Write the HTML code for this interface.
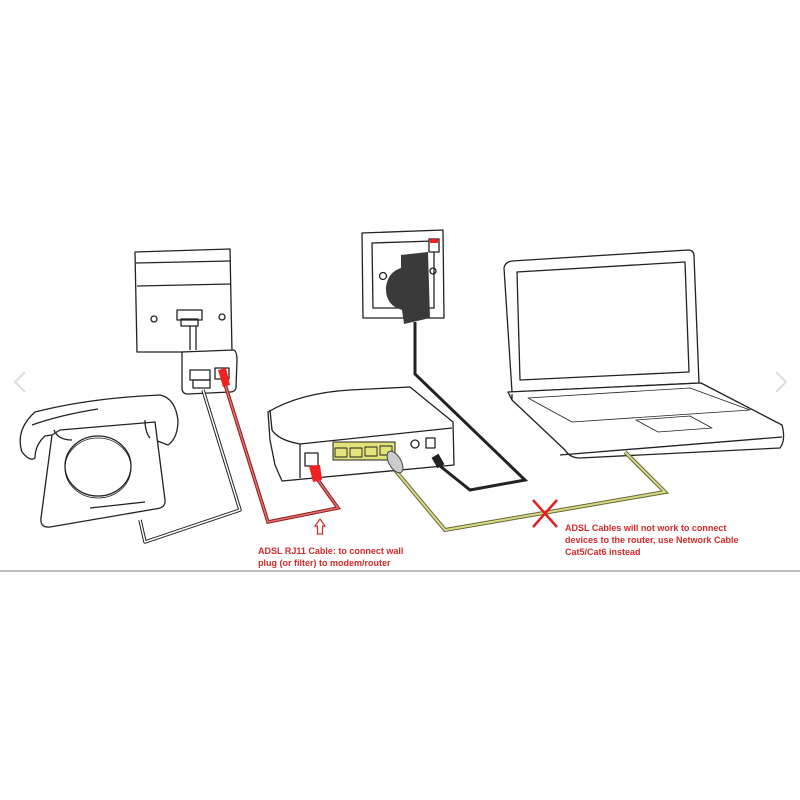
<!DOCTYPE html>
<html><head><style>
html,body{margin:0;padding:0;background:#fff;}
svg{display:block}
text{font-family:"Liberation Sans",sans-serif;font-weight:bold;fill:#d42a2a;font-size:9px}
</style></head><body>
<svg width="800" height="800" viewBox="0 0 800 800">
<g fill="none" stroke="#222" stroke-width="1.3" stroke-linejoin="round">
<path d="M25 372 L15 382 L25 392" stroke="#ddd" stroke-width="2"/>
<path d="M776 372 L786 382 L776 392" stroke="#ddd" stroke-width="2"/>
<path d="M135 252 L230 249 L232 352 L137 352 Z" fill="#fff"/>
<path d="M136 263 L230 261"/>
<path d="M137 286 L231 284"/>
<circle cx="154" cy="319" r="3"/><circle cx="222" cy="317" r="3"/>
<rect x="177" y="310" width="25" height="10"/>
<rect x="181" y="319" width="17" height="7"/>
<path d="M190 326 L190 350 M196 326 L196 350"/>
<path d="M182 352 L234 350 Q237 352 237 360 L236 388 Q235 392 230 392 L188 394 Q182 394 182 388 Z" fill="#fff"/>
<rect x="190" y="370" width="20" height="10"/>
<rect x="193" y="380" width="17" height="8"/>
<rect x="215" y="368" width="14" height="11"/>
<path d="M203 390 L240 510 L145 542 L140 520" stroke-width="3.5"/>
<path d="M203 390 L240 510 L145 542 L140 520" stroke="#fff" stroke-width="1.5"/>
<path d="M22 452 Q15 430 35 412 Q90 398 160 395 Q175 398 178 420 Q178 438 168 445 L155 440 L152 424 Q100 428 45 436 Q35 445 35 458 Q30 462 22 452 Z" fill="#fff"/>
<path d="M32 425 Q60 415 98 409"/>
<path d="M52 435 L60 430 L155 422 L165 500 Q166 508 155 509 L50 527 Q40 528 41 518 Z" fill="#fff"/>
<path d="M54 430 Q58 440 72 440"/><path d="M145 420 Q145 432 150 438"/>
<ellipse cx="98" cy="466" rx="33" ry="30" fill="#fff"/>
<ellipse cx="98" cy="468" rx="33" ry="30" stroke-width="0.8"/>
<path d="M90 508 L145 502"/>
<path d="M268 412 Q300 393 350 390 L410 387 L453 422 L454 465 L282 481 L275 465 L270 440 Z" fill="#fff"/>
<path d="M270 410 L272 430 Q278 440 300 444 L452 428"/>
<path d="M300 444 L300 478"/>
<rect x="333" y="442" width="62" height="18" fill="#e3e37a" stroke-width="1"/>
<g stroke-width="0.9"><rect x="335" y="448" width="12" height="9"/><rect x="350" y="448" width="12" height="9"/><rect x="365" y="447" width="12" height="9"/><rect x="380" y="446" width="12" height="9"/></g>
<rect x="305" y="453" width="13" height="13"/>
<circle cx="415" cy="444" r="4"/>
<rect x="426" y="438" width="9" height="10"/>
<path d="M362 233 L443 230 L444 318 L363 318 Z" fill="#fff"/>
<path d="M372 243 L434 241 L434 308 L373 308 Z"/>
<circle cx="383" cy="276" r="3.5"/>
<circle cx="433" cy="271" r="3"/>
<rect x="429" y="239" width="10" height="13" fill="#fff"/>
<rect x="430" y="239" width="8" height="4" fill="#e22" stroke="none"/>
</g>
<path d="M401 255 L428 252 L430 318 L404 324 L402 310 Q385 305 386 287 Q388 272 401 268 Z" fill="#3a3a3a"/>
<path d="M415 322 L415 374 L525 480 L470 490 L440 466" fill="none" stroke="#222" stroke-width="3"/>
<rect x="434" y="455" width="8" height="12" fill="#222" transform="rotate(-30 438 461)"/>
<g fill="none" stroke="#222" stroke-width="1.3" stroke-linejoin="round">
<path d="M504 268 Q505 262 512 261 L688 250 Q694 250 694 256 L699 383 L512 392 Z" fill="#fff"/>
<path d="M517 272 L685 262 L689 372 L520 380 Z"/>
<path d="M508 392 L701 383 L782 425 Q786 440 780 448 L580 458 Q570 458 565 450 L512 400 Z" fill="#fff"/>
<path d="M512 400 L512 394"/>
<path d="M560 455 L782 437"/>
<path d="M528 398 L690 388 L750 410 L572 422 Z" stroke-width="0.8"/>
<path d="M636 420 L690 416 L712 428 L658 432 Z" stroke-width="0.8"/>
</g>
<path d="M223 378 L268 522 L338 508 L318 480" fill="none" stroke="#8b1b1b" stroke-width="3.5"/>
<path d="M223 378 L268 522 L338 508 L318 480" fill="none" stroke="#e87070" stroke-width="1.5"/>
<path d="M218 370 L226 368 L230 385 L223 387 Z" fill="#e22"/>
<path d="M309 466 L320 465 L322 480 L313 482 Z" fill="#e22"/>
<path d="M395 470 L445 530 L665 492 L625 452" fill="none" stroke="#666632" stroke-width="4"/>
<path d="M395 470 L445 530 L665 492 L625 452" fill="none" stroke="#d9d98a" stroke-width="2"/>
<ellipse cx="395" cy="462" rx="6" ry="12" fill="#ccc" stroke="#444" transform="rotate(-30 395 462)"/>
<path d="M533 500 L557 527 M557 500 L533 527" stroke="#e02020" stroke-width="2.5"/>
<path d="M320 519 L325 526 L322.5 526 L322.5 534 L317.5 534 L317.5 526 L315 526 Z" fill="none" stroke="#d42a2a" stroke-width="1.2"/>
<line x1="0" y1="571" x2="800" y2="571" stroke="#777" stroke-width="1"/>
<text x="258" y="554">ADSL RJ11 Cable: to connect wall</text>
<text x="258" y="566">plug (or filter) to modem/router</text>
<text x="565" y="531">ADSL Cables will not work to connect</text>
<text x="565" y="543">devices to the router, use Network Cable</text>
<text x="565" y="555">Cat5/Cat6 instead</text>
</svg>
</body></html>
